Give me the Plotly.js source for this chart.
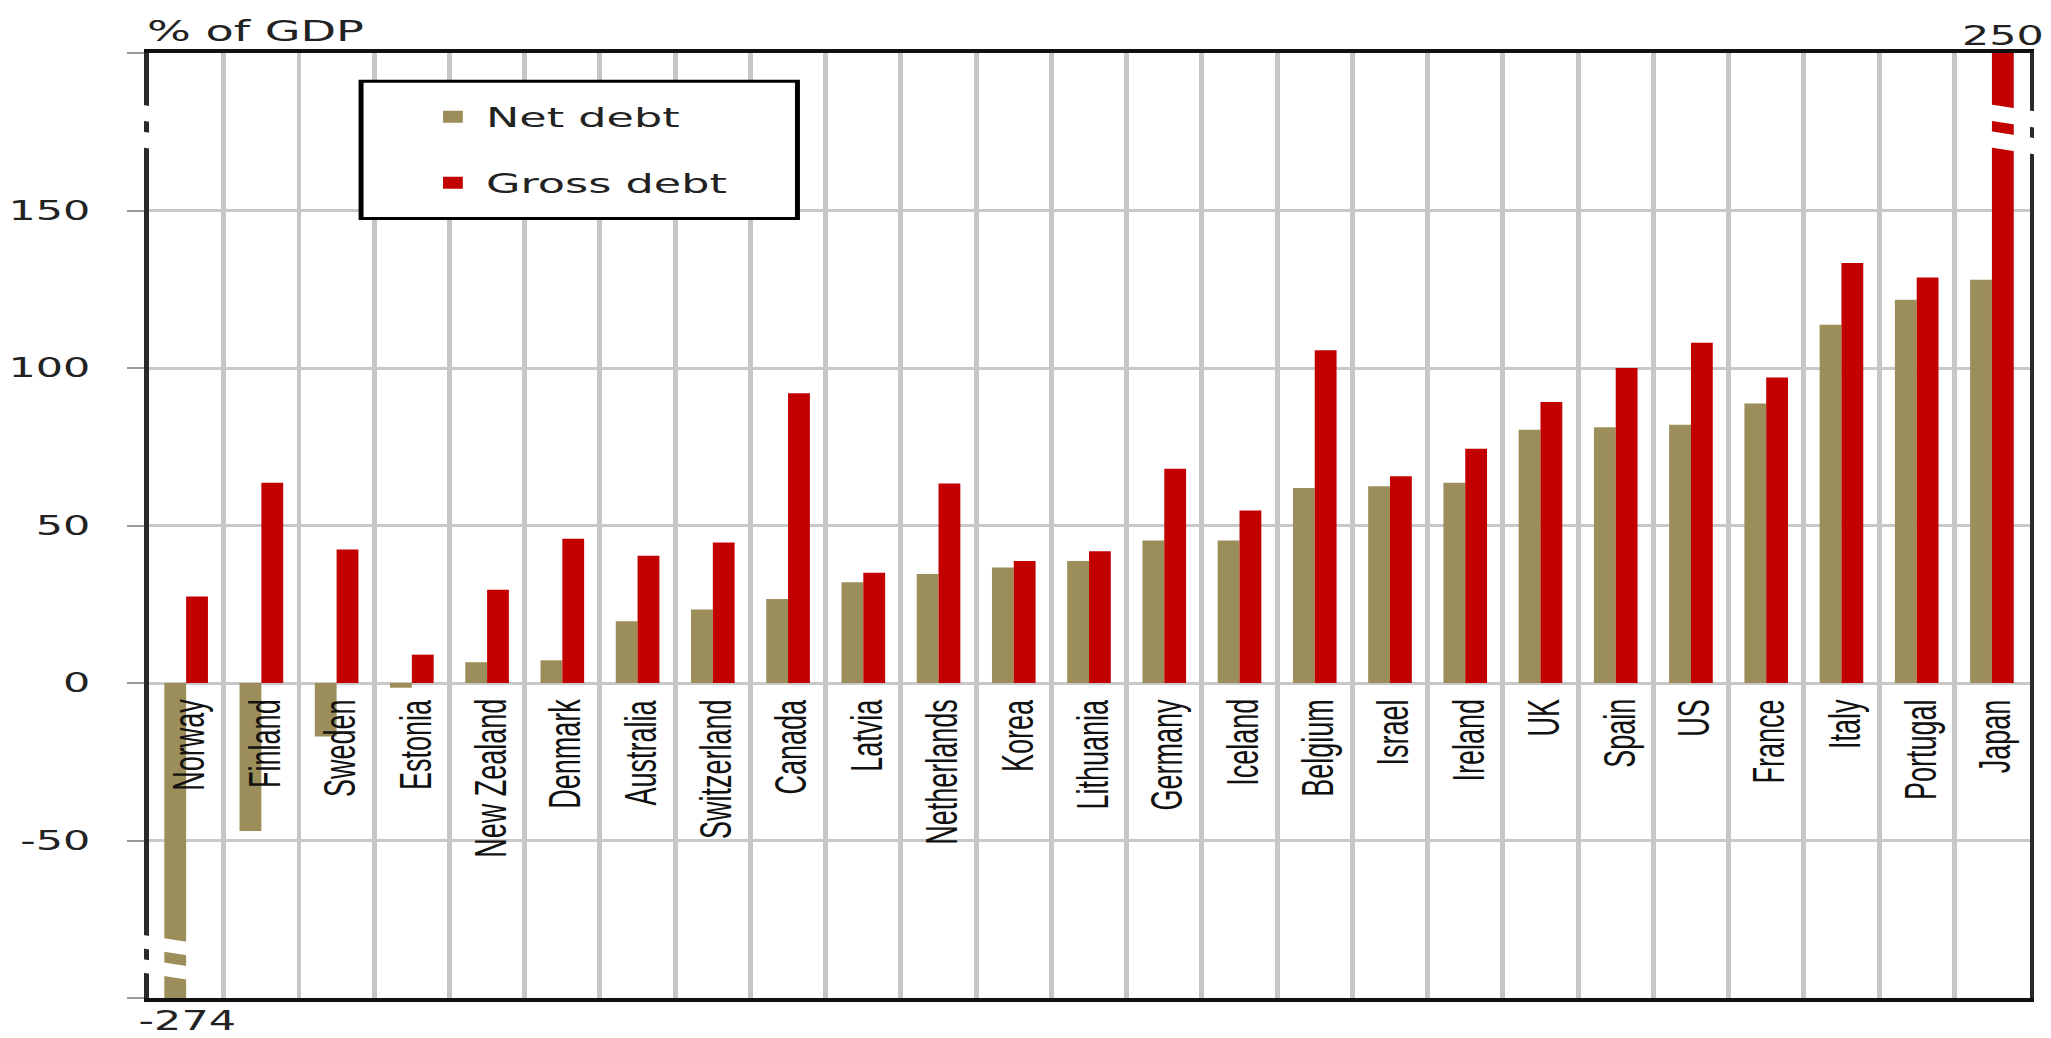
<!DOCTYPE html>
<html>
<head>
<meta charset="utf-8">
<script src="https://cdn.plot.ly/plotly-3.0.1.min.js"></script>
<style>
html, body { margin: 0; padding: 0; overflow: hidden; background: #ffffff; }
#chart { width: 1243px; height: 1038px; transform-origin: 0 0; }
</style>
</head>
<body>
<div id="chart"></div>
<script>
// ---- data ----
const countries = ["Norway", "Finland", "Sweden", "Estonia", "New Zealand", "Denmark", "Australia",
  "Switzerland", "Canada", "Latvia", "Netherlands", "Korea", "Lithuania", "Germany", "Iceland",
  "Belgium", "Israel", "Ireland", "UK", "Spain", "US", "France", "Italy", "Portugal", "Japan"];
const netDebt = [-274, -47, -17, -1.5, 6.6, 7.2, 19.6, 23.3, 26.7, 32, 34.6, 36.7, 38.7, 45.2, 45.2,
  61.9, 62.5, 63.6, 80.4, 81.2, 82, 88.7, 113.7, 121.7, 128];
const grossDebt = [27.5, 63.6, 42.4, 9, 29.6, 45.8, 40.4, 44.6, 92, 35, 63.3, 38.7, 41.8, 68, 54.8,
  105.6, 65.6, 74.4, 89.2, 100, 108, 97, 133.3, 128.7, 250];
const seriesNames = ["Net debt", "Gross debt"];
const tickValues = [-100, -50, 0, 50, 100, 150, 200];
const tickLabels = ["", "-50", "0", "50", "100", "150", ""];
const yTitle = "% of GDP";
const offScaleLabels = [{country: "Norway", text: "-274"}, {country: "Japan", text: "250"}];

// ---- styling ----
const STRETCH = 2051 / 1243;   // the reference picture is stretched horizontally
document.getElementById('chart').style.transform = 'scaleX(' + STRETCH + ')';
const NET_COLOR = '#9B8E5A';
const GROSS_COLOR = '#C20000';
const TXT = '#222222';
const TICK_FONT = 'DejaVu Sans, Verdana, sans-serif';
const LABEL_FONT = 'Liberation Sans, Arial, sans-serif';

const traces = [
  {type: 'bar', name: seriesNames[0], x: countries, y: netDebt, marker: {color: NET_COLOR},
   legendgroup: 'n', hoverinfo: 'x+y'},
  {type: 'bar', name: seriesNames[1], x: countries, y: grossDebt, marker: {color: GROSS_COLOR},
   legendgroup: 'g', hoverinfo: 'x+y'}
];

const annotations = [];
countries.forEach(function (c) {
  annotations.push({xref: 'x', yref: 'y', x: c, y: 0, text: c, showarrow: false,
    textangle: -90, xanchor: 'center', yanchor: 'top', yshift: -14, xshift: 2,
    font: {family: LABEL_FONT, size: 27, color: '#111111'}});
});
annotations.push({xref: 'paper', yref: 'paper', x: 0, y: 1, xanchor: 'left', yanchor: 'bottom',
  yshift: 3, xshift: -3, text: yTitle, showarrow: false, font: {family: TICK_FONT, size: 28, color: TXT}});
annotations.push({xref: 'x', yref: 'paper', x: offScaleLabels[0].country, y: 0, xanchor: 'center',
  yanchor: 'top', yshift: -6, xshift: 1, text: offScaleLabels[0].text, showarrow: false,
  font: {family: TICK_FONT, size: 26, color: TXT}});
annotations.push({xref: 'x', yref: 'paper', x: offScaleLabels[1].country, y: 1, xanchor: 'center',
  yanchor: 'bottom', yshift: 0, xshift: 7, text: offScaleLabels[1].text, showarrow: false,
  font: {family: TICK_FONT, size: 26, color: TXT}});

// axis-break marks: white slanted strips over axis / bar
function strip(x0, x1, yt, yb, drop) {
  return {type: 'path', xref: 'paper', yref: 'y', layer: 'above',
    path: 'M' + x0 + ',' + yt + ' L' + x1 + ',' + (yt - drop) + ' L' + x1 + ',' + (yb - drop) +
          ' L' + x0 + ',' + yb + ' Z',
    fillcolor: '#ffffff', line: {width: 0}};
}
const shapes = [
  // legend box
  {type: 'rect', xref: 'paper', yref: 'paper', x0: 0.113, x1: 0.345, y0: 0.825, y1: 0.970,
   line: {color: '#000000', width: 3}, fillcolor: '#ffffff', layer: 'above'},
  // top-left break (axis only)
  strip(-0.008, 0.008, 184, 179, 1.5),
  strip(-0.008, 0.008, 175.5, 170.5, 1.5),
  // bottom-left break (axis + Norway)
  strip(-0.008, 0.0245, -79.5, -83.8, 3),
  strip(-0.008, 0.0245, -87.2, -91.5, 3),
  // top-right break (Japan + axis)
  strip(0.976, 1.008, 184, 178.8, 3),
  strip(0.976, 1.008, 175.5, 170.3, 3)
];

const layout = {
  width: 1243, height: 1038,
  margin: {l: 90, r: 13, t: 53, b: 40},
  paper_bgcolor: '#ffffff', plot_bgcolor: '#ffffff',
  barmode: 'group', bargap: 0.42, bargroupgap: 0,
  showlegend: true,
  legend: {x: 0.1443, y: 0.958, xanchor: 'left', yanchor: 'top', bgcolor: 'rgba(0,0,0,0)',
    borderwidth: 0, traceorder: 'grouped', tracegroupgap: 28,
    font: {family: TICK_FONT, size: 27, color: TXT}},
  xaxis: {type: 'category', range: [-0.5, 24.5], tickson: 'boundaries', showgrid: true,
    gridcolor: '#C6C6C6', gridwidth: 3, showticklabels: false, ticks: '',
    showline: true, mirror: true, linecolor: '#111111', linewidth: 4, fixedrange: true},
  yaxis: {range: [-100, 200], tickmode: 'array', tickvals: tickValues, ticktext: tickLabels,
    ticks: 'outside', ticklen: 10, tickwidth: 2, tickcolor: '#9a9a9a',
    showgrid: true, gridcolor: '#C8C8C8', gridwidth: 3, zeroline: false,
    showline: true, mirror: true, linecolor: '#2a2a2a', linewidth: 3,
    tickfont: {family: TICK_FONT, size: 26, color: TXT}, ticklabelstandoff: 17, fixedrange: true},
  annotations: annotations,
  shapes: shapes
};

Plotly.newPlot('chart', traces, layout, {displayModeBar: false, staticPlot: true});
</script>
</body>
</html>
